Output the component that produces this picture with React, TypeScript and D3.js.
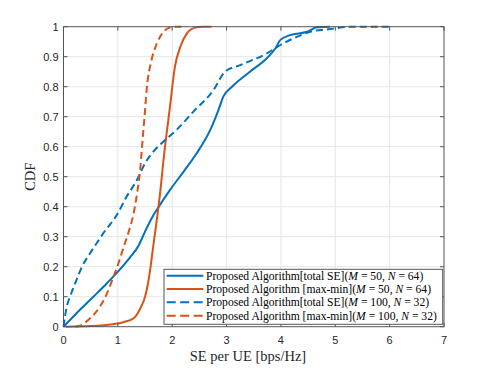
import React, { useEffect, useRef } from 'react';
import * as d3 from 'd3';

// total SE, M = 50, N = 64
const totalSE50X = [0, 0.24, 0.55, 0.8, 1.01, 1.22, 1.38, 1.5, 1.62, 1.76, 1.96, 2.21, 2.45, 2.7, 2.85, 2.94, 3.1, 3.43, 3.74, 3.9, 3.99, 4.17, 4.48, 4.66, 4.9];
const totalSE50Y = [0, 0.045, 0.1, 0.145, 0.185, 0.23, 0.27, 0.317, 0.361, 0.402, 0.456, 0.517, 0.578, 0.656, 0.722, 0.767, 0.8, 0.85, 0.895, 0.928, 0.956, 0.972, 0.983, 0.998, 1];

// max-min, M = 50, N = 64
const maxMin50X = [0.05, 0.5, 0.9, 1.1, 1.29, 1.41, 1.5, 1.55, 1.59, 1.65, 1.72, 1.78, 1.84, 1.96, 2.05, 2.15, 2.27, 2.42, 2.55, 2.72];
const maxMin50Y = [0, 0.002, 0.008, 0.015, 0.028, 0.06, 0.1, 0.14, 0.185, 0.267, 0.361, 0.45, 0.556, 0.735, 0.867, 0.933, 0.978, 0.997, 1, 1];

// total SE, M = 100, N = 32
const totalSE100X = [0, 0.06, 0.12, 0.24, 0.34, 0.49, 0.61, 0.73, 0.98, 1.16, 1.35, 1.5, 1.65, 1.84, 2.08, 2.39, 2.76, 2.97, 3.25, 3.74, 3.99, 4.23, 4.54, 4.9, 5.3, 6.0];
const totalSE100Y = [0, 0.067, 0.1, 0.156, 0.2, 0.245, 0.278, 0.311, 0.372, 0.433, 0.489, 0.545, 0.583, 0.617, 0.656, 0.717, 0.789, 0.85, 0.872, 0.911, 0.939, 0.961, 0.983, 0.992, 1, 1];

// max-min, M = 100, N = 32
const maxMin100X = [0.22, 0.3, 0.49, 0.67, 0.8, 0.92, 1.01, 1.1, 1.19, 1.29, 1.35, 1.41, 1.44, 1.47, 1.5, 1.53, 1.62, 1.72, 1.84, 1.95, 2.05, 2.25];
const maxMin100Y = [0, 0.003, 0.028, 0.067, 0.111, 0.167, 0.211, 0.262, 0.311, 0.378, 0.44, 0.522, 0.589, 0.656, 0.722, 0.79, 0.889, 0.945, 0.983, 0.997, 1, 1];

const xTicks = [0, 1, 2, 3, 4, 5, 6, 7];
const yTicks = [0, 0.1, 0.2, 0.3, 0.4, 0.5, 0.6, 0.7, 0.8, 0.9, 1];

const legendLabels = [
  { head: 'Proposed Algorithm[total SE](', m: '50', n: '64' },
  { head: 'Proposed Algorithm [max-min](', m: '50', n: '64' },
  { head: 'Proposed Algorithm[total SE](', m: '100', n: '32' },
  { head: 'Proposed Algorithm [max-min](', m: '100', n: '32' },
];

const BLUE = '#0072BD';
const ORANGE = '#D95319';

const series = [
  { xs: totalSE50X, ys: totalSE50Y, color: BLUE, dash: null },
  { xs: maxMin50X, ys: maxMin50Y, color: ORANGE, dash: null },
  { xs: totalSE100X, ys: totalSE100Y, color: BLUE, dash: '7,4' },
  { xs: maxMin100X, ys: maxMin100Y, color: ORANGE, dash: '7,4' },
];

const W = 491;
const H = 368;

export default function App() {
  const svgRef = useRef<SVGSVGElement>(null);

  useEffect(() => {
    if (!svgRef.current) return;
    const svg = d3.select(svgRef.current);
    svg.selectAll('*').remove();

    const margin = { top: 26.7, right: 47, bottom: 41.3, left: 63.5 };
    const innerW = W - margin.left - margin.right;
    const innerH = H - margin.top - margin.bottom;

    const x = d3.scaleLinear().domain([0, 7]).range([0, innerW]);
    const y = d3.scaleLinear().domain([0, 1]).range([innerH, 0]);

    svg.append('rect').attr('width', W).attr('height', H).attr('fill', '#fff');

    const g = svg.append('g').attr('transform', `translate(${margin.left},${margin.top})`);

    // grid
    g.selectAll('.gx')
      .data(xTicks.slice(1, -1))
      .enter().append('line')
      .attr('x1', d => x(d)).attr('x2', d => x(d))
      .attr('y1', 0).attr('y2', innerH)
      .attr('stroke', '#e6e6e6').attr('stroke-width', 1);
    g.selectAll('.gy')
      .data(yTicks.slice(1, -1))
      .enter().append('line')
      .attr('y1', d => y(d)).attr('y2', d => y(d))
      .attr('x1', 0).attr('x2', innerW)
      .attr('stroke', '#e6e6e6').attr('stroke-width', 1);

    // curves
    const line = d3.line<[number, number]>()
      .x(d => x(d[0]))
      .y(d => y(d[1]))
      .curve(d3.curveMonotoneX);

    series.forEach(s => {
      const pts = s.xs.map((v, i) => [v, s.ys[i]] as [number, number]);
      const p = g.append('path')
        .datum(pts)
        .attr('fill', 'none')
        .attr('stroke', s.color)
        .attr('stroke-width', 2)
        .attr('stroke-linejoin', 'round')
        .attr('d', line);
      if (s.dash) p.attr('stroke-dasharray', s.dash);
    });

    // box + inward ticks
    const axisColor = '#555';
    g.append('rect')
      .attr('width', innerW).attr('height', innerH)
      .attr('fill', 'none').attr('stroke', axisColor).attr('stroke-width', 1);

    const tl = 4;
    xTicks.forEach(t => {
      g.append('line').attr('x1', x(t)).attr('x2', x(t)).attr('y1', innerH).attr('y2', innerH - tl).attr('stroke', axisColor);
      g.append('line').attr('x1', x(t)).attr('x2', x(t)).attr('y1', 0).attr('y2', tl).attr('stroke', axisColor);
    });
    yTicks.forEach(t => {
      g.append('line').attr('y1', y(t)).attr('y2', y(t)).attr('x1', 0).attr('x2', tl).attr('stroke', axisColor);
      g.append('line').attr('y1', y(t)).attr('y2', y(t)).attr('x1', innerW).attr('x2', innerW - tl).attr('stroke', axisColor);
    });

    // tick labels
    const tickFont = '"Liberation Sans", Arial, sans-serif';
    g.selectAll('.xl')
      .data(xTicks)
      .enter().append('text')
      .attr('x', d => x(d)).attr('y', innerH + 13)
      .attr('text-anchor', 'middle').attr('dominant-baseline', 'central')
      .attr('font-family', tickFont).attr('font-size', 11).attr('fill', '#262626')
      .text(d => String(d));
    g.selectAll('.yl')
      .data(yTicks)
      .enter().append('text')
      .attr('x', -5).attr('y', d => y(d))
      .attr('text-anchor', 'end').attr('dominant-baseline', 'central')
      .attr('font-family', tickFont).attr('font-size', 11).attr('fill', '#262626')
      .text(d => String(d));

    // axis labels
    const serif = '"Liberation Serif", "Times New Roman", serif';
    svg.append('text')
      .attr('x', 248).attr('y', 356)
      .attr('text-anchor', 'middle').attr('dominant-baseline', 'central')
      .attr('font-family', serif).attr('font-size', 14.5).attr('fill', '#262626')
      .text('SE per UE [bps/Hz]');
    svg.append('text')
      .attr('transform', `translate(30,${margin.top + innerH / 2}) rotate(-90)`)
      .attr('text-anchor', 'middle').attr('dominant-baseline', 'central')
      .attr('font-family', serif).attr('font-size', 14.5).attr('fill', '#262626')
      .text('CDF');

    // legend
    const lg = svg.append('g');
    lg.append('rect')
      .attr('x', 164).attr('y', 269.3).attr('width', 278.7).attr('height', 55)
      .attr('fill', '#fff').attr('stroke', '#555').attr('stroke-width', 1);
    const rowY = d3.scaleLinear().domain([0, 3]).range([275.7, 315.7]);
    legendLabels.forEach((lab, i) => {
      const s = series[i];
      const ly = rowY(i);
      const ln = lg.append('line')
        .attr('x1', 166.7).attr('x2', 203.3).attr('y1', ly).attr('y2', ly)
        .attr('stroke', s.color).attr('stroke-width', 2);
      if (s.dash) ln.attr('stroke-dasharray', '9,4.5');
      const t = lg.append('text')
        .attr('x', 206).attr('y', ly)
        .attr('dominant-baseline', 'central')
        .attr('font-family', serif).attr('font-size', 11.6).attr('fill', '#000');
      t.append('tspan').text(lab.head);
      t.append('tspan').attr('font-style', 'italic').text('M');
      t.append('tspan').text(` = ${lab.m}, `);
      t.append('tspan').attr('font-style', 'italic').text('N');
      t.append('tspan').text(` = ${lab.n})`);
    });
  }, []);

  return (
    <div style={{ position: 'absolute', left: 0, top: 0 }}>
      <svg ref={svgRef} width={W} height={H} style={{ display: 'block' }} />
    </div>
  );
}
